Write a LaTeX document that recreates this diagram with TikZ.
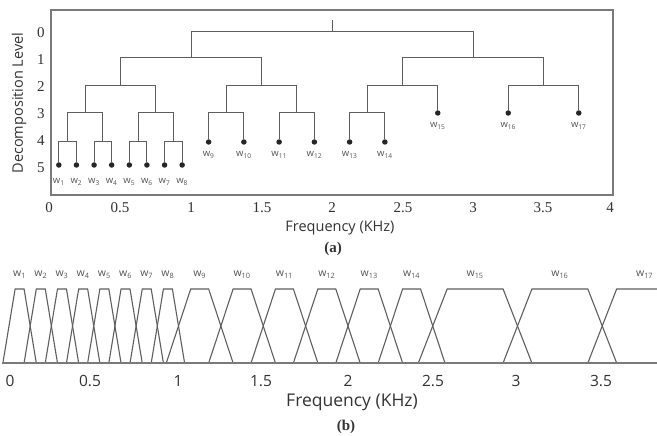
\documentclass[tikz,border=0pt]{standalone}
\usepackage{fontspec}
\setmainfont{Liberation Serif}
\setsansfont{Open Sans}
\definecolor{treegray}{HTML}{5E5E5E}
\definecolor{boxgray}{HTML}{7A7A7A}
\definecolor{trapgray}{HTML}{5F5F5F}
\definecolor{labgray}{HTML}{555555}
\definecolor{txt}{HTML}{333333}
\begin{document}
\begin{tikzpicture}[x=1pt,y=-1pt,
  treeline/.style={draw=treegray, line width=1pt},
  leafdot/.style={circle, fill=black!85, inner sep=0pt, minimum size=5.5pt},
  wlab/.style={font=\fontsize{9.5}{9.5}\selectfont\sffamily, text=labgray, inner sep=0pt},
  bwlab/.style={font=\fontsize{10.5}{10.5}\selectfont\sffamily, text=labgray, inner sep=0pt},
  ticklab/.style={font=\fontsize{15}{15}\selectfont, text=txt, inner sep=0pt},
  bticklab/.style={font=\fontsize{15.5}{15.5}\selectfont\sffamily, text=txt, inner sep=0pt},
  axlab/.style={font=\fontsize{14.5}{14.5}\selectfont\sffamily, text=txt, inner sep=0pt},
  baxlab/.style={font=\fontsize{17.5}{17.5}\selectfont\sffamily, text=txt, inner sep=0pt},
  caplab/.style={font=\fontsize{15}{15}\selectfont\bfseries, text=txt, inner sep=0pt},
  trap/.style={draw=trapgray, line width=1.1pt, line join=miter},
  baseline/.style={draw=boxgray, line width=2pt},
  frame/.style={draw=boxgray, line width=1.4pt}]
\useasboundingbox (0,0) rectangle (657,436);
\fill[white] (0,0) rectangle (657,436);

% ---------- (a) decomposition tree ----------
\draw[frame] (51,10) rectangle (613,195);
\node[axlab, rotate=90] (ylab) at (19,103) {Decomposition Level};
\foreach \l/\yy in {0/33,1/60,2/87,3/114,4/141,5/168}
  \node[ticklab] (lev\l) at (41,\yy) {\l};
\foreach \t/\xx in {0/49,0.5/120,1/191,1.5/262,2/332,2.5/403,3/473,3.5/543,4/610}
  \node[ticklab] (tt\t) at (\xx,208) {\t};
\node[axlab] (fa) at (340,228) {Frequency (KHz)};
\node[caplab] (capa) at (333,249) {(a)};

\begin{scope}[shift={(50pt,0pt)}, x=141pt]
  \coordinate (t0) at (2,20);
  \coordinate (r) at (2,32);
  \coordinate (a) at (1,58);   \coordinate (b) at (3,58);
  \coordinate (aa) at (0.5,86); \coordinate (ab) at (1.5,86);
  \coordinate (ba) at (2.5,86); \coordinate (bb) at (3.5,86);
  \coordinate (aaa) at (0.25,113); \coordinate (aab) at (0.75,113);
  \coordinate (aba) at (1.25,113); \coordinate (abb) at (1.75,113);
  \coordinate (baa) at (2.25,113);
  \coordinate (q1) at (0.125,142); \coordinate (q2) at (0.375,142);
  \coordinate (q3) at (0.625,142); \coordinate (q4) at (0.875,142);
  % leaves
  \foreach \i in {1,...,8}
    \node[leafdot] (t\i) at ({0.0625+0.125*(\i-1)},165) {};
  \foreach \i in {9,...,14}
    \node[leafdot] (t\i) at ({1.125+0.25*(\i-9)},142) {};
  \node[leafdot] (t15) at (2.75,113) {};
  \node[leafdot] (t16) at (3.25,113) {};
  \node[leafdot] (t17) at (3.75,113) {};
  \foreach \i in {1,...,8}
    \node[wlab] (tl\i) at ({0.0625+0.125*(\i-1)},182) {w\textsubscript{\i}};
  \foreach \i in {9,...,14}
    \node[wlab] (tl\i) at ({1.125+0.25*(\i-9)},155) {w\textsubscript{\i}};
  \node[wlab] (tl15) at (2.75,126) {w\textsubscript{15}};
  \node[wlab] (tl16) at (3.25,126) {w\textsubscript{16}};
  \node[wlab] (tl17) at (3.75,126) {w\textsubscript{17}};
  % connectors
  \draw[treeline] (t0) -- (r);
  \foreach \p/\c in {r/a, r/b, a/aa, a/ab, b/ba, b/bb,
      aa/aaa, aa/aab, ab/aba, ab/abb, ba/baa, ba/t15, bb/t16, bb/t17,
      aaa/q1, aaa/q2, aab/q3, aab/q4, aba/t9, aba/t10, abb/t11, abb/t12,
      baa/t13, baa/t14, q1/t1, q1/t2, q2/t3, q2/t4, q3/t5, q3/t6, q4/t7, q4/t8}
    \draw[treeline] (\p) -| (\c);
\end{scope}

% ---------- (b) filter bank ----------
\begin{scope}
  \clip (0,0) rectangle (657,436);
  \begin{scope}[shift={(9pt,0pt)}, x=169.5pt]
    \foreach \i in {1,...,8}{
      \pgfmathsetmacro\aa{0.125*(\i-1)}
      \pgfmathsetmacro\bb{0.125*\i}
      \draw[trap] ({\aa-0.036},363) -- ({\aa+0.036},289) -- ({\bb-0.036},289) -- ({\bb+0.036},363);
      \node[bwlab] (bl\i) at ({(\aa+\bb)/2},275) {w\textsubscript{\i}};
    }
    \foreach \i in {9,...,14}{
      \pgfmathsetmacro\aa{1+0.25*(\i-9)}
      \pgfmathsetmacro\bb{1.25+0.25*(\i-9)}
      \draw[trap] ({\aa-0.072},363) -- ({\aa+0.072},289) -- ({\bb-0.072},289) -- ({\bb+0.072},363);
      \node[bwlab] (bl\i) at ({(\aa+\bb)/2},275) {w\textsubscript{\i}};
    }
    \foreach \i in {15,16,17}{
      \pgfmathsetmacro\aa{2.5+0.5*(\i-15)}
      \pgfmathsetmacro\bb{3+0.5*(\i-15)}
      \draw[trap] ({\aa-0.085},363) -- ({\aa+0.085},289) -- ({\bb-0.085},289) -- ({\bb+0.085},363);
      \node[bwlab] (bl\i) at ({(\aa+\bb)/2},275) {w\textsubscript{\i}};
    }
  \end{scope}
  \draw[baseline] (2,363) -- (657,363);
\end{scope}
\foreach \t/\xx in {0/10,0.5/90,1/178,1.5/261,2/348,2.5/433,3/516,3.5/601}
  \node[bticklab] (bt\t) at (\xx,381) {\t};
\node[baxlab] (fb) at (352,402) {Frequency (KHz)};
\node[caplab] (capb) at (346,427) {(b)};
\end{tikzpicture}
\end{document}
